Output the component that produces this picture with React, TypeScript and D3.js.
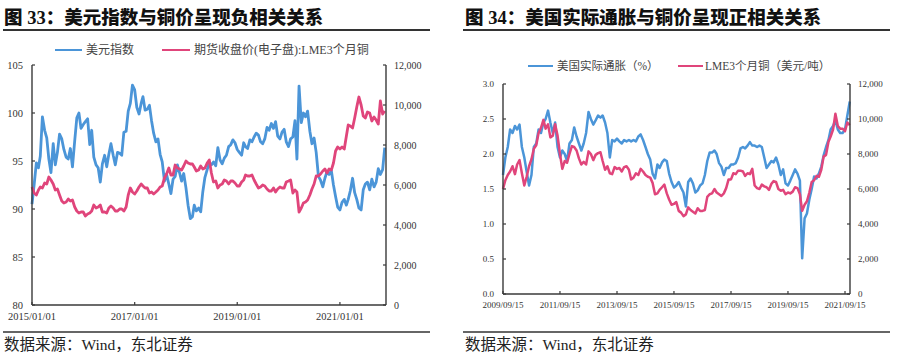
import React from "react";
import * as d3 from "d3";

// ---------- Figure 33: semi-monthly points from 2015/01/01 (1st and 16th of each month) ----------
const dxy: number[] = [
  // 2015
  90.5, 92.5, 94.8, 94.3, 95.5, 99.6, 98.2, 97.4, 95.2, 93.8, 96.8, 94.6, 95.9, 97.8, 97.3, 96.2, 95.4, 95.2, 96.3, 94.4, 97.1, 99.5, 100.0, 98.4,
  // 2016
  98.8, 99.1, 99.4, 96.7, 98.2, 95.4, 94.6, 94.3, 92.8, 94.7, 95.6, 94.4, 95.7, 96.8, 95.6, 94.6, 95.9, 95.8, 95.6, 98.0, 98.1, 100.2, 101.0, 102.9,
  // 2017
  102.4, 100.6, 99.9, 101.0, 101.7, 100.3, 100.4, 100.8, 99.2, 97.9, 97.0, 97.3, 95.7, 94.9, 92.9, 93.6, 92.6, 91.6, 93.1, 93.4, 94.6, 93.8, 92.9, 93.7,
  // 2018
  92.2, 90.4, 89.0, 89.2, 90.4, 89.8, 90.1, 89.7, 91.8, 93.3, 94.1, 94.8, 94.6, 94.9, 94.5, 96.4, 95.1, 94.7, 95.3, 95.6, 96.5, 96.7, 97.2, 96.9,
  // 2019
  96.2, 95.9, 95.6, 96.9, 96.5, 96.3, 97.2, 97.0, 97.5, 97.9, 97.7, 97.0, 96.8, 97.3, 98.5, 98.2, 98.9, 98.4, 99.1, 97.6, 97.3, 98.0, 98.3, 97.0,
  // 2020
  96.5, 97.3, 97.5, 99.2, 95.2, 102.8, 99.0, 100.0, 99.6, 100.2, 98.1, 96.8, 97.4, 95.9, 93.4, 93.0, 92.3, 93.2, 93.9, 93.6, 94.0, 92.5, 91.3, 90.2,
  // 2021
  89.9, 90.7, 91.0, 90.4, 91.0, 91.9, 93.2, 91.7, 91.0, 90.1, 89.9, 92.0, 92.6, 92.8, 92.0, 93.1, 92.3, 92.8, 94.2, 93.6, 94.1, 96.4,
];

const lmeCopper1: number[] = [
  // 2015
  5900, 5600, 5500, 5750, 5900, 5850, 6100, 6050, 6400, 6250, 6050, 5750, 5800, 5500, 5200, 5100, 5150, 5300, 5200, 5250, 4900, 4700, 4600, 4650,
  // 2016
  4650, 4450, 4550, 4600, 4700, 5000, 4850, 4900, 5000, 4650, 4650, 4600, 4850, 4950, 4850, 4700, 4700, 4800, 4800, 4700, 4900, 5500, 5850, 5650,
  // 2017
  5550, 5700, 5900, 6050, 5950, 5850, 5850, 5600, 5650, 5550, 5650, 5750, 5900, 5950, 6350, 6550, 6850, 6500, 6500, 7000, 6850, 6800, 6750, 6950,
  // 2018
  7200, 7100, 7050, 7050, 6900, 6700, 6750, 6950, 6800, 6850, 7100, 7250, 6600, 6150, 6200, 5850, 6000, 6050, 6250, 6200, 6050, 6200, 6200, 6100,
  // 2019
  5950, 5950, 6150, 6250, 6500, 6450, 6450, 6500, 6250, 6050, 5850, 5900, 6000, 5950, 5800, 5700, 5700, 5850, 5650, 5800, 5900, 5850, 5850, 6150,
  // 2020
  6200, 6250, 5600, 5750, 5650, 4650, 4850, 5100, 5150, 5250, 5500, 5800, 6050, 6450, 6450, 6550, 6700, 6800, 6600, 6800, 6750, 7100, 7700, 7900,
  // 2021
  7800, 7900, 7800, 8450, 9000, 8950, 8850, 9350, 9900, 10400, 10000, 9450, 9350, 9650, 9600, 9200, 9400, 9250, 9050, 10200, 9550, 9700,
];

const ticks1X = ["2015/01/01", "2017/01/01", "2019/01/01", "2021/01/01"];
const ticks1L = [80, 85, 90, 95, 100, 105];
const ticks1R = [0, 2000, 4000, 6000, 8000, 10000, 12000];

// ---------- Figure 34: monthly points from 2009/09/15 ----------
const breakeven: number[] = [
  1.70, 1.95, 2.10, 2.35,
  2.30, 2.40, 2.35, 2.42, 2.10, 1.95, 1.75, 1.55, 1.70, 2.10, 2.15, 2.35,
  2.30, 2.45, 2.50, 2.62, 2.45, 2.30, 2.45, 2.10, 1.95, 2.05, 2.00, 1.90,
  2.15, 2.20, 2.38, 2.25, 2.15, 2.05, 2.15, 2.30, 2.60, 2.50, 2.42, 2.48,
  2.55, 2.52, 2.55, 2.45, 2.30, 1.95, 2.20, 2.18, 2.22, 2.18, 2.15, 2.20,
  2.18, 2.20, 2.18, 2.20, 2.18, 2.25, 2.28, 2.20, 2.10, 2.00, 1.92, 1.72,
  1.65, 1.85, 1.80, 1.88, 1.92, 1.90, 1.72, 1.60, 1.52, 1.55, 1.60, 1.52,
  1.45, 1.25, 1.60, 1.65, 1.58, 1.45, 1.48, 1.55, 1.58, 1.70, 1.90, 2.02,
  2.02, 2.05, 2.00, 1.87, 1.82, 1.70, 1.80, 1.80, 1.85, 1.85, 1.87, 1.95,
  2.08, 2.10, 2.08, 2.12, 2.17, 2.12, 2.12, 2.10, 2.12, 2.10, 1.95, 1.80,
  1.85, 1.90, 1.88, 1.95, 1.85, 1.70, 1.78, 1.58, 1.55, 1.62, 1.70, 1.78,
  1.72, 1.62, 0.51, 1.08, 1.15, 1.35, 1.50, 1.68, 1.65, 1.72, 1.82, 1.98,
  2.10, 2.20, 2.35, 2.40, 2.48, 2.35, 2.30, 2.30, 2.35, 2.55, 2.75,
];

const lmeCopper2: number[] = [
  6000, 6500, 6800, 7000,
  7300, 6850, 7400, 7650, 6900, 6200, 6700, 7300, 7700, 8300, 8500, 9200,
  9500, 9950, 9450, 9700, 8950, 9050, 9700, 9050, 8000, 7150, 7600, 7500,
  8000, 8450, 8400, 8200, 7750, 7400, 7550, 7400, 8150, 8000, 7650, 7950,
  8050, 8100, 7600, 7100, 7300, 6900, 6850, 7250, 7150, 7200, 7000, 7250,
  7300, 7100, 6550, 6650, 6900, 6800, 7150, 7000, 6800, 6700, 6650, 6350,
  5700, 5750, 5950, 6100, 6250, 5750, 5400, 5100, 5150, 5250, 4750, 4650,
  4450, 4550, 4950, 4800, 4700, 4600, 4900, 4750, 4750, 4800, 5550, 5700,
  5750, 6000, 5800, 5700, 5600, 5750, 6050, 6550, 6550, 6900, 6850, 7050,
  7050, 7000, 6750, 6900, 6850, 7150, 6200, 6050, 6000, 6250, 6150, 6100,
  5950, 6300, 6450, 6400, 6000, 5900, 5950, 5700, 5800, 5750, 5850, 6100,
  6050, 5700, 4750, 5100, 5300, 5800, 6400, 6500, 6750, 6700, 7100, 7850,
  7950, 8700, 9000, 9400, 10300, 9600, 9450, 9450, 9300, 9800, 9650,
];

const ticks2X = ["2009/09/15", "2011/09/15", "2013/09/15", "2015/09/15", "2017/09/15", "2019/09/15", "2021/09/15"];
const ticks2L = [0, 0.5, 1.0, 1.5, 2.0, 2.5, 3.0];
const ticks2R = [0, 2000, 4000, 6000, 8000, 10000, 12000];

const BLUE = "#4b95d8";
const RED = "#e0457b";
const AXIS = "#3a3a3a";
const SERIF = "'Liberation Serif', 'Noto Sans CJK SC', serif";
const CJK = "'Liberation Serif', 'Noto Sans CJK SC', sans-serif";

const parse = (s: string) => {
  const [y, m, d] = s.split("/").map(Number);
  return new Date(y, m - 1, d);
};

const semiMonthDate = (i: number) => new Date(2015, Math.floor(i / 2), i % 2 === 0 ? 1 : 16);
const monthDate = (i: number) => new Date(2009, 8 + i, 15);

type Pt = [Date, number];

function Panel(props: {
  x: d3.ScaleTime<number, number>;
  yL: d3.ScaleLinear<number, number>;
  yR: d3.ScaleLinear<number, number>;
  blue: Pt[];
  red: Pt[];
  xTicks: string[];
  lTicks: number[];
  rTicks: number[];
  lFmt: (v: number) => string;
  fs: number;
  fsR: number;
  lw: number;
}) {
  const { x, yL, yR, blue, red, xTicks, lTicks, rTicks, lFmt, fs, fsR, lw } = props;
  const [x0, x1] = x.range();
  const [yb, yt] = yL.range();
  const lineL = d3.line<Pt>().x((d) => x(d[0])).y((d) => yL(d[1]));
  const lineR = d3.line<Pt>().x((d) => x(d[0])).y((d) => yR(d[1]));
  const fmtR = d3.format(",");
  return (
    <g>
      <path d={lineL(blue) || ""} fill="none" stroke={BLUE} strokeWidth={lw} strokeLinejoin="round" />
      <path d={lineR(red) || ""} fill="none" stroke={RED} strokeWidth={lw} strokeLinejoin="round" />
      <line x1={x0} x2={x0} y1={yt} y2={yb} stroke={AXIS} strokeWidth={1.4} />
      <line x1={x1} x2={x1} y1={yt} y2={yb} stroke={AXIS} strokeWidth={1.4} />
      <line x1={x0} x2={x1} y1={yb} y2={yb} stroke={AXIS} strokeWidth={1.4} />
      {lTicks.map((t) => (
        <g key={"l" + t}>
          <line x1={x0} x2={x0 + 3} y1={yL(t)} y2={yL(t)} stroke={AXIS} strokeWidth={1.2} />
          <text x={x0 - 9} y={yL(t)} textAnchor="end" dominantBaseline="central" fontFamily={SERIF} fontSize={fs} fill="#333">
            {lFmt(t)}
          </text>
        </g>
      ))}
      {rTicks.map((t) => (
        <g key={"r" + t}>
          <line x1={x1} x2={x1 - 3} y1={yR(t)} y2={yR(t)} stroke={AXIS} strokeWidth={1.2} />
          <text x={x1 + 8} y={yR(t)} textAnchor="start" dominantBaseline="central" fontFamily={SERIF} fontSize={fsR} fill="#333">
            {fmtR(t)}
          </text>
        </g>
      ))}
      {xTicks.map((t) => (
        <g key={"x" + t}>
          <line x1={x(parse(t))} x2={x(parse(t))} y1={yb} y2={yb - 3} stroke={AXIS} strokeWidth={1.2} />
          <text x={x(parse(t))} y={yb + 11} textAnchor="middle" dominantBaseline="central" fontFamily={SERIF} fontSize={fs} fill="#333">
            {t}
          </text>
        </g>
      ))}
    </g>
  );
}

export default function App() {
  const x1 = d3.scaleTime().domain([new Date(2015, 0, 1), new Date(2021, 10, 25)]).range([32, 386]);
  const y1L = d3.scaleLinear().domain([80, 105]).range([305, 65]);
  const y1R = d3.scaleLinear().domain([0, 12000]).range([305, 65]);

  const x2 = d3.scaleTime().domain([new Date(2009, 8, 15), new Date(2021, 10, 18)]).range([503, 850]);
  const y2L = d3.scaleLinear().domain([0, 3]).range([294, 84]);
  const y2R = d3.scaleLinear().domain([0, 12000]).range([294, 84]);

  const blue1: Pt[] = dxy.map((v, i) => [semiMonthDate(i), v]);
  const red1: Pt[] = lmeCopper1.map((v, i) => [semiMonthDate(i), v]);
  const blue2: Pt[] = breakeven.map((v, i) => [monthDate(i), v]);
  const red2: Pt[] = lmeCopper2.map((v, i) => [monthDate(i), v]);

  return (
    <svg width={904} height={356} style={{ position: "absolute", left: 0, top: 0, background: "#fff" }}>
      {/* Titles */}
      <text x={4} y={24} fontFamily={CJK} fontWeight={900} fontSize={18.5} fill="#111">
        图 33：美元指数与铜价呈现负相关关系
      </text>
      <line x1={3} x2={430} y1={30} y2={30} stroke="#333" strokeWidth={2} />
      <text x={465} y={24} fontFamily={CJK} fontWeight={900} fontSize={18.5} fill="#111">
        图 34：美国实际通胀与铜价呈现正相关关系
      </text>
      <line x1={463} x2={890} y1={30} y2={30} stroke="#333" strokeWidth={2} />

      {/* Legends */}
      <line x1={55} x2={82} y1={50} y2={50} stroke={BLUE} strokeWidth={2} />
      <text x={86} y={50} dominantBaseline="central" fontFamily={CJK} fontSize={12} fill="#444">美元指数</text>
      <line x1={162} x2={190} y1={50} y2={50} stroke={RED} strokeWidth={2} />
      <text x={194} y={50} dominantBaseline="central" fontFamily={CJK} fontSize={12} fill="#444">期货收盘价(电子盘):LME3个月铜</text>

      <line x1={528} x2={553} y1={66} y2={66} stroke={BLUE} strokeWidth={2} />
      <text x={557} y={66} dominantBaseline="central" fontFamily={CJK} fontSize={11.5} fill="#444">美国实际通胀（%）</text>
      <line x1={678} x2={703} y1={66} y2={66} stroke={RED} strokeWidth={2} />
      <text x={705} y={66} dominantBaseline="central" fontFamily={CJK} fontSize={11.5} fill="#444">LME3个月铜（美元/吨）</text>

      <Panel x={x1} yL={y1L} yR={y1R} blue={blue1} red={red1} xTicks={ticks1X} lTicks={ticks1L} rTicks={ticks1R}
        lFmt={(v) => String(v)} fs={10.5} fsR={10} lw={2.8} />
      <Panel x={x2} yL={y2L} yR={y2R} blue={blue2} red={red2} xTicks={ticks2X} lTicks={ticks2L} rTicks={ticks2R}
        lFmt={d3.format(".1f")} fs={9} fsR={9} lw={2.5} />

      {/* Sources */}
      <line x1={3} x2={430} y1={332} y2={332} stroke="#333" strokeWidth={1.5} />
      <text x={4} y={344} dominantBaseline="central" fontFamily={CJK} fontSize={15.5} fill="#222">数据来源：Wind，东北证券</text>
      <line x1={463} x2={890} y1={332} y2={332} stroke="#333" strokeWidth={1.5} />
      <text x={465} y={344} dominantBaseline="central" fontFamily={CJK} fontSize={15.5} fill="#222">数据来源：Wind，东北证券</text>
    </svg>
  );
}
